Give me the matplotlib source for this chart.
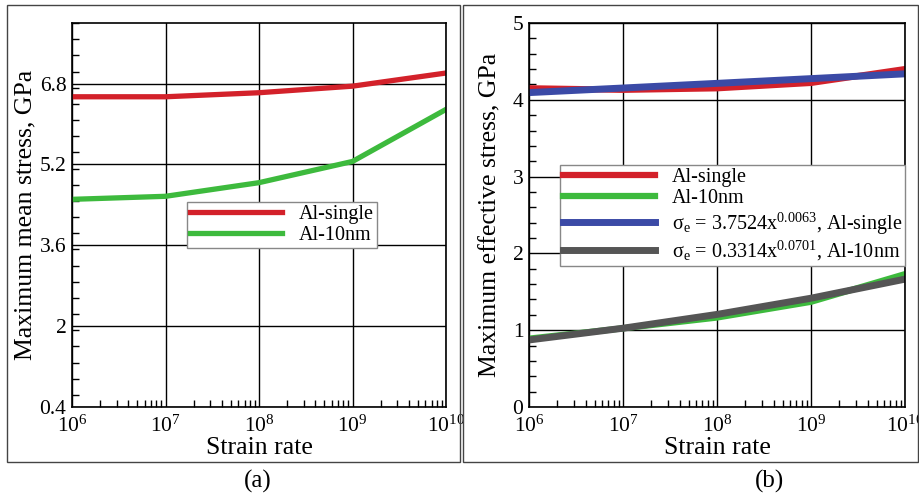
import numpy as np
import matplotlib
matplotlib.use("Agg")
import matplotlib.pyplot as plt
from matplotlib.patches import Rectangle
from matplotlib.ticker import LogLocator, FixedLocator, MultipleLocator, NullFormatter

plt.rcParams["font.family"] = ["Liberation Serif", "DejaVu Serif"]
plt.rcParams["mathtext.fontset"] = "custom"
plt.rcParams["mathtext.rm"] = "Liberation Serif"
plt.rcParams["mathtext.it"] = "Liberation Serif:italic"

strain_rate = [1e6, 1e7, 1e8, 1e9, 1e10]

# (a) maximum mean stress, GPa
mean_single = [6.54, 6.54, 6.62, 6.75, 7.01]
mean_10nm = [4.51, 4.57, 4.84, 5.26, 6.29]

# (b) maximum effective stress, GPa
eff_single = [4.15, 4.13, 4.15, 4.22, 4.40]
eff_10nm = [0.89, 1.025, 1.165, 1.37, 1.73]

# power-law fits sigma_e = a * x^b
fit_single = (3.7524, 0.0063)
fit_10nm = (0.3314, 0.0701)

RED = "#d3212a"
GREEN = "#3dba3d"
BLUE = "#3b4aa6"
GRAY = "#555555"

TICK_FS = 15.5
LABEL_FS = 18.5
LEG_FS = 14.5

W, H = 920, 496
fig = plt.figure(figsize=(W / 100, H / 100), dpi=100)


def px_axes(x0, y0, x1, y1):
    return fig.add_axes([x0 / W, 1 - y1 / H, (x1 - x0) / W, (y1 - y0) / H])


def style_axes(ax, ylim, major, minor):
    ax.set_xscale("log")
    ax.set_xlim(1e6, 1e10)
    ax.set_ylim(*ylim)
    ax.xaxis.set_major_locator(FixedLocator(strain_rate))
    ax.xaxis.set_minor_locator(LogLocator(base=10, subs=np.arange(2, 10)))
    ax.xaxis.set_minor_formatter(NullFormatter())
    ax.set_xticklabels([r"$10^{%d}$" % int(np.log10(v)) for v in strain_rate])
    ax.yaxis.set_major_locator(FixedLocator(major))
    ax.yaxis.set_minor_locator(MultipleLocator(minor))
    ax.set_yticklabels([("%g" % v) for v in major])
    ax.tick_params(which="both", direction="in", top=False, right=False)
    ax.tick_params(which="major", length=0, labelsize=TICK_FS, pad=4)
    ax.tick_params(axis="x", which="major", pad=6)
    ax.tick_params(which="minor", length=5, width=1)
    ax.grid(True, which="major", color="black", linewidth=1)
    for s in ax.spines.values():
        s.set_linewidth(1.2)
    ax.set_xlabel("Strain rate", fontsize=LABEL_FS, labelpad=0)


def add_legend(ax, anchor):
    leg = ax.legend(loc="upper left", bbox_to_anchor=anchor, fontsize=LEG_FS,
                    handlelength=4.6, handletextpad=0.8, borderaxespad=0,
                    borderpad=0.15, labelspacing=0.1, fancybox=False,
                    framealpha=1)
    leg.get_frame().set_edgecolor("#888888")
    leg.get_frame().set_linewidth(1)
    return leg


# (a)
ax1 = px_axes(72, 23, 446, 407)
style_axes(ax1, (0.4, 8.0), [0.4, 2, 3.6, 5.2, 6.8], 0.32)
ax1.plot(strain_rate, mean_single, color=RED, lw=3.8, label="Al-single")
ax1.plot(strain_rate, mean_10nm, color=GREEN, lw=3.8, label="Al-10nm")
ax1.set_ylabel("Maximum mean stress, GPa", fontsize=LABEL_FS, labelpad=2)
add_legend(ax1, (0.307, 0.534))

# (b)
ax2 = px_axes(529, 23, 905, 407)
style_axes(ax2, (0, 5), [0, 1, 2, 3, 4, 5], 0.2)
x = np.array(strain_rate)
ax2.plot(strain_rate, eff_single, color=RED, lw=4.5, label="Al-single")
ax2.plot(strain_rate, eff_10nm, color=GREEN, lw=4.5, label="Al-10nm")
ax2.plot(x, fit_single[0] * x ** fit_single[1], color=BLUE, lw=5,
         label="σ$_{\\rm e}$ = %.4fx$^{%.4f}$, Al-single" % fit_single)
ax2.plot(x, fit_10nm[0] * x ** fit_10nm[1], color=GRAY, lw=5,
         label="σ$_{\\rm e}$ = %.4fx$^{%.4f}$, Al-10nm" % fit_10nm)
ax2.set_ylabel("Maximum effective stress, GPa", fontsize=LABEL_FS, labelpad=8)
add_legend(ax2, (0.082, 0.630))

# panel frames and captions
for x0, x1 in [(7, 460), (463, 918)]:
    fig.patches.append(Rectangle((x0 / W, 1 - 462 / H), (x1 - x0) / W, 457 / H,
                                 transform=fig.transFigure, fill=False,
                                 edgecolor="#444444", linewidth=1))
fig.text(258 / W, 1 - 481 / H, "(a)", ha="center", va="center", fontsize=18)
fig.text(770 / W, 1 - 481 / H, "(b)", ha="center", va="center", fontsize=18)

fig.savefig("out.png", dpi=100)
